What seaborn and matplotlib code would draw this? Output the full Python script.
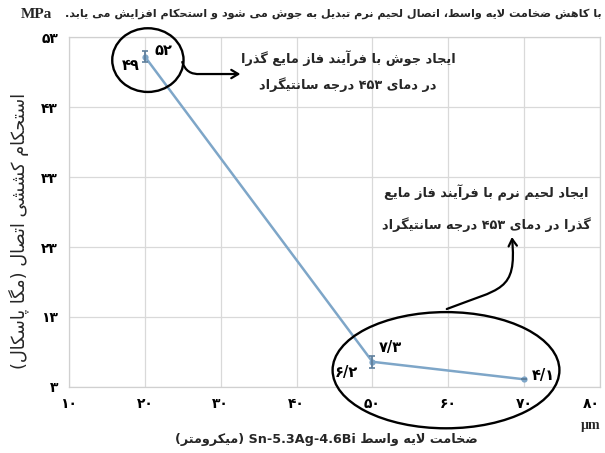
import re
import numpy as np
import pandas as pd
import matplotlib
matplotlib.use('Agg')
import matplotlib.pyplot as plt
import seaborn as sns
from matplotlib import font_manager, ft2font
from matplotlib.patches import Ellipse, FancyArrowPatch
from matplotlib.path import Path

# ---------------- data ----------------
thickness_um = [20, 50, 70]
strength_mpa = [50.2, 6.6, 4.1]
strength_err = [0.8, 0.9, 0.0]
x_ticks = [10, 20, 30, 40, 50, 60, 70, 80]
y_ticks = [3, 13, 23, 33, 43, 53]
range_labels = ['۵۲', '۴۹', '۷/۳', '۶/۲', '۴/۱']
range_label_x = [22.4, 18.1, 52.4, 46.5, 72.5]
range_label_y = [51.1, 49.0, 8.6, 5.1, 4.7]

title_text = 'با کاهش ضخامت لایه واسط، اتصال لحیم نرم تبدیل به جوش می شود و استحکام افزایش می یابد.'
xlabel_text = 'ضخامت لایه واسط Sn-5.3Ag-4.6Bi (میکرومتر)'
ylabel_text = 'استحکام کششی اتصال (مگا پاسکال)'
note1 = ['ایجاد جوش با فرآیند فاز مایع گذرا', 'در دمای ۴۵۳ درجه سانتیگراد']
note2 = ['ایجاد لحیم نرم با فرآیند فاز مایع', 'گذرا در دمای ۴۵۳ درجه سانتیگراد']

# ---------------- Arabic-script shaping helpers ----------------
FORMS = {
    '\u0627': (0xFE8D, 0xFE8E, None, None),
    '\u0622': (0xFE81, 0xFE82, None, None),
    '\u0628': (0xFE8F, 0xFE90, 0xFE91, 0xFE92),
    '\u067E': (0xFB56, 0xFB57, 0xFB58, 0xFB59),
    '\u062A': (0xFE95, 0xFE96, 0xFE97, 0xFE98),
    '\u062B': (0xFE99, 0xFE9A, 0xFE9B, 0xFE9C),
    '\u062C': (0xFE9D, 0xFE9E, 0xFE9F, 0xFEA0),
    '\u0686': (0xFB7A, 0xFB7B, 0xFB7C, 0xFB7D),
    '\u062D': (0xFEA1, 0xFEA2, 0xFEA3, 0xFEA4),
    '\u062E': (0xFEA5, 0xFEA6, 0xFEA7, 0xFEA8),
    '\u062F': (0xFEA9, 0xFEAA, None, None),
    '\u0630': (0xFEAB, 0xFEAC, None, None),
    '\u0631': (0xFEAD, 0xFEAE, None, None),
    '\u0632': (0xFEAF, 0xFEB0, None, None),
    '\u0698': (0xFB8A, 0xFB8B, None, None),
    '\u0633': (0xFEB1, 0xFEB2, 0xFEB3, 0xFEB4),
    '\u0634': (0xFEB5, 0xFEB6, 0xFEB7, 0xFEB8),
    '\u0635': (0xFEB9, 0xFEBA, 0xFEBB, 0xFEBC),
    '\u0636': (0xFEBD, 0xFEBE, 0xFEBF, 0xFEC0),
    '\u0637': (0xFEC1, 0xFEC2, 0xFEC3, 0xFEC4),
    '\u0638': (0xFEC5, 0xFEC6, 0xFEC7, 0xFEC8),
    '\u0639': (0xFEC9, 0xFECA, 0xFECB, 0xFECC),
    '\u063A': (0xFECD, 0xFECE, 0xFECF, 0xFED0),
    '\u0641': (0xFED1, 0xFED2, 0xFED3, 0xFED4),
    '\u0642': (0xFED5, 0xFED6, 0xFED7, 0xFED8),
    '\u06A9': (0xFB8E, 0xFB8F, 0xFB90, 0xFB91),
    '\u0643': (0xFED9, 0xFEDA, 0xFEDB, 0xFEDC),
    '\u06AF': (0xFB92, 0xFB93, 0xFB94, 0xFB95),
    '\u0644': (0xFEDD, 0xFEDE, 0xFEDF, 0xFEE0),
    '\u0645': (0xFEE1, 0xFEE2, 0xFEE3, 0xFEE4),
    '\u0646': (0xFEE5, 0xFEE6, 0xFEE7, 0xFEE8),
    '\u0648': (0xFEED, 0xFEEE, None, None),
    '\u0647': (0xFEE9, 0xFEEA, 0xFEEB, 0xFEEC),
    '\u06CC': (0xFBFC, 0xFBFD, 0xFBFE, 0xFBFF),
    '\u064A': (0xFEF1, 0xFEF2, 0xFEF3, 0xFEF4),
}
FALLBACK = {
    '\u06CC': (0xFEEF, 0xFEF0, 0xFEF3, 0xFEF4),
    '\u06A9': (0xFED9, 0xFEDA, 0xFEDB, 0xFEDC),
    '\u06AF': (0xFED9, 0xFEDA, 0xFEDB, 0xFEDC),
    '\u067E': (0xFE8F, 0xFE90, 0xFE91, 0xFE92),
    '\u0686': (0xFE9D, 0xFE9E, 0xFE9F, 0xFEA0),
    '\u0698': (0xFEAF, 0xFEB0, None, None),
}


def font_chars(prop):
    try:
        path = font_manager.findfont(prop, fallback_to_default=True)
        return set(ft2font.FT2Font(path).get_charmap().keys())
    except Exception:
        return set()


cb = font_chars(font_manager.FontProperties(family='DejaVu Sans', weight='bold'))
if all(c in cb for c in (0xFEB5, 0xFEDF, 0xFEFB, 0xFE8E)):
    AR_WEIGHT = 'bold'
    CHARS = cb
else:
    AR_WEIGHT = 'normal'
    CHARS = font_chars(font_manager.FontProperties(family='DejaVu Sans'))

for ch, fb in FALLBACK.items():
    if CHARS and any(c is not None and c not in CHARS for c in FORMS[ch]):
        FORMS[ch] = fb

if CHARS and 0x06F4 not in CHARS:
    DIGMAP = str.maketrans('۰۱۲۳۴۵۶۷۸۹', '٠١٢٣٤٥٦٧٨٩')
else:
    DIGMAP = str.maketrans('', '')


def joins_next(c):
    f = FORMS.get(c)
    return f is not None and f[2] is not None


def shape(s):
    out = []
    n = len(s)
    i = 0
    while i < n:
        c = s[i]
        if c not in FORMS:
            out.append(c)
            i += 1
            continue
        prev = s[i - 1] if i > 0 else None
        prev_j = prev is not None and joins_next(prev)
        if c == '\u0644' and i + 1 < n and s[i + 1] in ('\u0627', '\u0622'):
            if s[i + 1] == '\u0627':
                code = 0xFEFC if prev_j else 0xFEFB
            else:
                code = 0xFEF6 if prev_j else 0xFEF5
            out.append(chr(code))
            i += 2
            continue
        nxt = s[i + 1] if i + 1 < n else None
        next_j = joins_next(c) and nxt is not None and nxt in FORMS
        f = FORMS[c]
        if prev_j and next_j:
            code = f[3]
        elif prev_j:
            code = f[1]
        elif next_j:
            code = f[2]
        else:
            code = f[0]
        out.append(chr(code))
        i += 1
    return ''.join(out)


LTR = r'[0-9A-Za-z\u06F0-\u06F9\u0660-\u0669]'
TOKEN_RE = re.compile(LTR + r'(?:[0-9A-Za-z\u06F0-\u06F9\u0660-\u0669./\-]*' + LTR + r')?|.', re.S)
MIRROR = {'(': ')', ')': '('}


def rtl(s):
    s = s.translate(DIGMAP)
    toks = TOKEN_RE.findall(shape(s))
    toks = [MIRROR.get(t, t) for t in toks]
    return ''.join(reversed(toks))


def fa(s):
    return str(s).translate(str.maketrans('0123456789', '۰۱۲۳۴۵۶۷۸۹')).translate(DIGMAP)


# ---------------- figure ----------------
sns.set_theme(style='whitegrid')
plt.rcParams['font.family'] = ['DejaVu Sans']

W, H = 605, 453
fig = plt.figure(figsize=(W / 100, H / 100), dpi=100)
ax = fig.add_axes([69 / W, 1 - 387 / H, 531 / W, 350 / H])

df = pd.DataFrame({'thickness': thickness_um, 'strength': strength_mpa})
line_color = '#7ea6c8'
sns.lineplot(data=df, x='thickness', y='strength', ax=ax, color=line_color,
             linewidth=1.8, marker='o', markersize=4.5, markeredgewidth=0,
             zorder=3)
ax.errorbar(thickness_um, strength_mpa, yerr=strength_err, fmt='none',
            ecolor='#5f7f9c', elinewidth=1.3, capsize=2.5, capthick=1.2, zorder=4)

ax.set_xlim(10, 80)
ax.set_ylim(3, 53)
ax.set_xticks(x_ticks)
ax.set_yticks(y_ticks)
xl = ax.set_xticklabels([fa(v) for v in x_ticks], fontsize=10, fontweight='bold')
xl[-1].set_horizontalalignment('right')
ax.set_yticklabels([fa(v) for v in y_ticks], fontsize=10, fontweight='bold')
ax.tick_params(axis='both', length=0, colors='black')
ax.tick_params(axis='x', pad=7)
ax.tick_params(axis='y', pad=8)
ax.set_xlabel('')
ax.set_ylabel('')
ax.grid(True, color='#d9d9d9', linewidth=0.9)
for sp in ax.spines.values():
    sp.set_color('#d0d0d0')
    sp.set_linewidth(0.9)

# range labels next to points
for lab, lx, ly in zip(range_labels, range_label_x, range_label_y):
    ax.text(lx, ly, fa(lab), ha='center', va='center', fontsize=10.5,
            fontweight='bold', color='black', zorder=5)

# ellipses
ax.add_patch(Ellipse((20.4, 49.7), 9.4, 9.1, fill=False, edgecolor='black',
                     linewidth=1.7, clip_on=False, zorder=6))
ax.add_patch(Ellipse((59.7, 5.4), 29.9, 16.6, fill=False, edgecolor='black',
                     linewidth=1.7, clip_on=False, zorder=6))

# arrows
p1 = Path([(24.93, 49.43), (25.46, 47.57), (27.31, 47.71), (32.59, 47.71)],
          [Path.MOVETO, Path.CURVE3, Path.CURVE3, Path.LINETO])
ax.add_patch(FancyArrowPatch(path=p1, arrowstyle='->,head_length=5,head_width=3',
                             color='black', linewidth=1.6, clip_on=False, zorder=6))
p2 = Path([(59.80, 14.14), (66.93, 17.14), (69.05, 16.57), (68.39, 24.43)],
          [Path.MOVETO, Path.CURVE4, Path.CURVE4, Path.CURVE4])
ax.add_patch(FancyArrowPatch(path=p2, arrowstyle='->,head_length=5,head_width=3',
                             color='black', linewidth=1.6, clip_on=False, zorder=6))

# ---------------- texts ----------------
def ftext(x, y, s, **kw):
    kw.setdefault('ha', 'center')
    kw.setdefault('va', 'center')
    return fig.text(x / W, 1 - y / H, s, **kw)


fits = []
t_title = ftext(602, 14, rtl(title_text), ha='right', fontsize=9, fontweight=AR_WEIGHT)
fits.append((t_title, 537, 'w'))
ftext(36, 15, 'MPa', family='Liberation Serif', fontweight='bold', fontsize=11)
ftext(591, 425, 'µm', family='Liberation Serif', fontweight='bold', fontsize=10)

ftext(348, 58, rtl(note1[0]), fontsize=9.3, fontweight=AR_WEIGHT)
ftext(348, 85, rtl(note1[1]), fontsize=9.3, fontweight=AR_WEIGHT)
ftext(486, 193, rtl(note2[0]), fontsize=9.3, fontweight=AR_WEIGHT)
ftext(486, 225, rtl(note2[1]), fontsize=9.3, fontweight=AR_WEIGHT)

t_xl = ftext(326, 440, rtl(xlabel_text), fontsize=10.5, fontweight=AR_WEIGHT)
fits.append((t_xl, 305, 'w'))
t_yl = ftext(19, 231, rtl(ylabel_text), fontsize=10, rotation=90, fontweight='normal')
fits.append((t_yl, 275, 'h'))

fig.canvas.draw()
r = fig.canvas.get_renderer()
for t, target, dim in fits:
    bb = t.get_window_extent(renderer=r)
    cur = bb.width if dim == 'w' else bb.height
    if cur > 0:
        t.set_fontsize(t.get_fontsize() * target / cur)

fig.savefig('out.png', dpi=100, facecolor='white')
